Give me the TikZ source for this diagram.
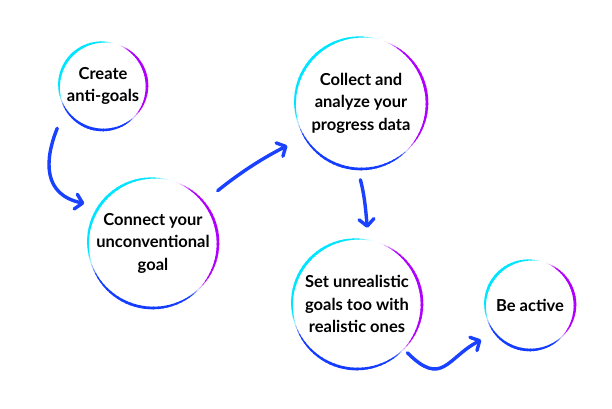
\documentclass[tikz,border=0pt]{standalone}
\usepackage{fontspec}
\setmainfont{Lato}
\usetikzlibrary{arrows.meta,positioning}

\definecolor{ringcyan}{RGB}{0,229,255}
\definecolor{ringblue}{RGB}{20,60,255}
\definecolor{ringpurple}{RGB}{175,0,255}
\definecolor{linkblue}{RGB}{25,65,255}

% one faded arc of a ring: node, radius, start angle, end angle, colour
\newcommand{\ringarc}[5]{%
    \foreach \i in {0,...,29}{
        \pgfmathsetmacro{\aa}{#3+(#4-#3)*\i/30}
        \pgfmathsetmacro{\ab}{#3+(#4-#3)*(\i+1.3)/30}
        \pgfmathsetmacro{\pp}{min(100,260*sin(180*(\i+0.5)/30))}
        \pgfmathsetmacro{\ww}{0.3+2.4*sin(180*(\i+0.5)/30)}
        \draw[line width=\ww pt, #5!\pp!white]
            ([shift={(\aa:#2)}]#1.center) arc[start angle=\aa, end angle=\ab, radius=#2];
    }%
}
\newcommand{\goalring}[2]{%
    \ringarc{#1}{#2}{75}{205}{ringcyan}
    \ringarc{#1}{#2}{195}{320}{ringblue}
    \ringarc{#1}{#2}{-48}{68}{ringpurple}
}

\begin{document}
\begin{tikzpicture}[
    x=1pt, y=1pt,
    goal/.style={circle, inner sep=0pt, align=center,
        font=\bfseries\fontsize{16.5}{22.5}\selectfont},
    link/.style={draw=linkblue, line width=3.4pt, line cap=round,
        -{Straight Barb[length=7pt, width=15pt, round]}}
]
    \useasboundingbox (0,0) rectangle (612,408);

    \node[goal, minimum size=88pt] (create) at (103,322) {Create\\anti-goals};
    \node[goal, minimum size=130pt] (connect) at (153,165) {Connect your\\unconventional\\goal};
    \node[goal, minimum size=132pt] (collect) at (361,305) {Collect and\\analyze your\\progress data};
    \node[goal, minimum size=130pt] (set) at (357,104) {Set unrealistic\\goals too with\\realistic ones};
    \node[goal, minimum size=90pt] (active) at (530,103) {Be active};

    \goalring{create}{44}
    \goalring{connect}{65}
    \goalring{collect}{66}
    \goalring{set}{65}
    \goalring{active}{45}

    \draw[link, shorten <=21pt, shorten >=15pt] (create.211) to[out=-112, in=168, looseness=1.4] (connect.146);
    \draw[link, shorten <=18pt, shorten >=19pt] (connect.39) to[bend left=6] (collect.211);
    \draw[link, shorten <=11pt, shorten >=12pt] (collect.267) to[out=-75, in=95] (set.80);
    \draw[link, shorten <=5pt, shorten >=15pt] (set.-44) to[out=-45, in=208, looseness=1.5] (active.218);
\end{tikzpicture}
\end{document}
